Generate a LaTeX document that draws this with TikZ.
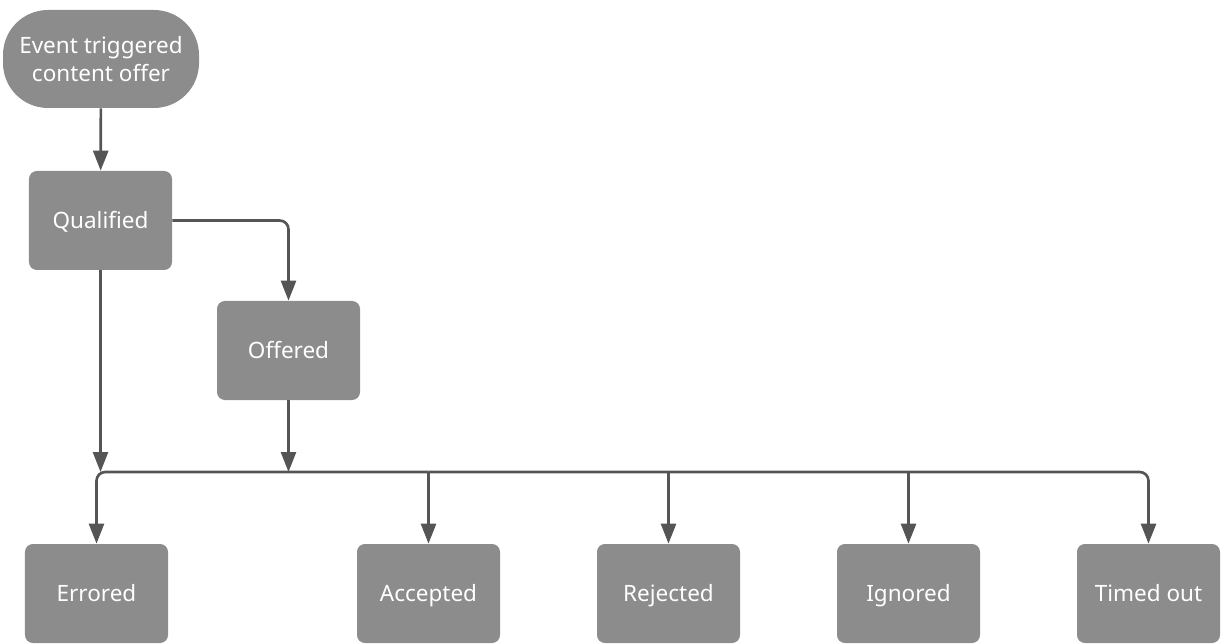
\documentclass[tikz,border=0pt]{standalone}
\usepackage{fontspec}
\setmainfont{Noto Sans}
\usetikzlibrary{arrows.meta}
\definecolor{boxgray}{HTML}{8C8C8C}
\definecolor{linegray}{HTML}{555555}
\tikzset{
  statebox/.style={draw=none, fill=boxgray, text=white, rounded corners=4.5pt,
    minimum width=2.86cm, minimum height=1.98cm, font=\fontsize{12.8}{15.5}\selectfont,
    align=center, text height=2.2ex, text depth=0.4ex},
  startbox/.style={statebox, minimum width=3.92cm, minimum height=1.96cm, rounded corners=0.9cm,
    text height=, text depth=},
  arr/.style={draw=linegray, line width=1.5pt, -{Triangle[length=0.4cm,width=0.3cm]}},
  busline/.style={arr, rounded corners=5pt}
}

\begin{document}
\begin{tikzpicture}
			%%%%% START %%%%%
			\useasboundingbox (0, 0) rectangle (24.5, -12.88);
			
			\node[startbox] (start) at (2.02, -1.18) {Event triggered\\content offer};
			\node[statebox] (qual) at (2.01, -4.41) {Qualified};
			\node[statebox] (off) at (5.77, -7.01) {Offered};
			
			\node[statebox] (err) at (1.93, -11.87) {Errored};
			\node[statebox] (acc) at (8.57, -11.87) {Accepted};
			\node[statebox] (rej) at (13.37, -11.87) {Rejected};
			\node[statebox] (ign) at (18.17, -11.87) {Ignored};
			\node[statebox] (tim) at (22.97, -11.87) {Timed out};
			
			\coordinate (bus) at (8.57, -9.44);
			
			\draw[arr] (start) -- (qual);
			\draw[busline] (qual.east) -| (off.north);
			\draw[arr] (qual.south) -- (qual.south |- bus);
			\draw[arr] (off.south) -- (off.south |- bus);
			
			\draw[busline] (bus) -| (err.north);
			\draw[busline] (bus) -| (tim.north);
			\foreach \n in {acc, rej, ign}
				\draw[arr] (\n.north |- bus) -- (\n.north);
			%%%%% END %%%%%
		\end{tikzpicture}
\end{document}
